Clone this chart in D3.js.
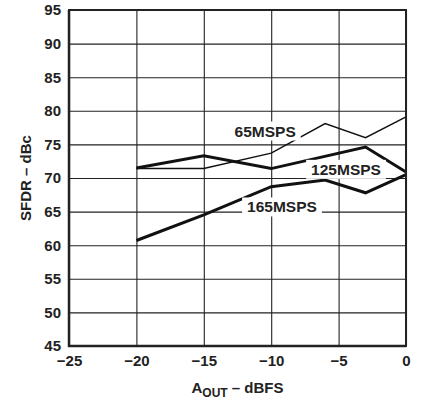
<!DOCTYPE html>
<html>
<head>
<meta charset="utf-8">
<script src="https://cdn.jsdelivr.net/npm/d3@7"></script>
<style>
  body { margin: 0; background: #fff; }
  text { font-family: "Liberation Sans", Arial, sans-serif; font-weight: bold; fill: #222; }
</style>
</head>
<body>
<div id="chart"></div>
<script>
// x ticks / y ticks
const xTicks = [-25, -20, -15, -10, -5, 0];
const yTicks = [45, 50, 55, 60, 65, 70, 75, 80, 85, 90, 95];

// series
const x65 = [-20, -15, -10, -6, -3, 0];
const y65 = [71.4, 71.4, 73.7, 78.1, 76.0, 79.1];
const x125 = [-20, -15, -10, -3, 0];
const y125 = [71.5, 73.3, 71.4, 74.6, 70.9];
const x165 = [-20, -15, -10, -6, -3, 0];
const y165 = [60.7, 64.5, 68.7, 69.7, 67.8, 70.5];

const seriesNames = ["65MSPS", "125MSPS", "165MSPS"];
const labelX = [-10.45, -4.45, -9.2];
const labelY = [77.0, 71.3, 65.7];

const W = 428, H = 400;
const margin = {top: 10, right: 22, bottom: 54, left: 69};
const width = W - margin.left - margin.right;
const height = H - margin.top - margin.bottom;

const svg = d3.select("#chart").append("svg")
    .attr("width", W)
    .attr("height", H);
const g = svg.append("g")
    .attr("transform", "translate(" + margin.left + "," + margin.top + ")");

const x = d3.scaleLinear().domain([-25, 0]).range([0, width]);
const y = d3.scaleLinear().domain([45, 95]).range([height, 0]);

// grid + tick labels
const yAxis = g.append("g")
    .call(d3.axisLeft(y).tickValues(yTicks).tickSize(-width).tickPadding(8));
const xAxis = g.append("g")
    .attr("transform", "translate(0," + height + ")")
    .call(d3.axisBottom(x).tickValues(xTicks).tickSize(-height).tickPadding(9));

[xAxis, yAxis].forEach(ax => {
    ax.select(".domain").remove();
    ax.selectAll(".tick line").attr("stroke", "#222").attr("stroke-width", 1.1);
    ax.selectAll(".tick text")
        .style("font-size", "15px")
        .attr("fill", "#222");
});

// series lines
const line = d3.line().x(d => x(d[0])).y(d => y(d[1]));
const series = [
    {xs: x65, ys: y65, w: 1.5},
    {xs: x125, ys: y125, w: 3},
    {xs: x165, ys: y165, w: 3}
];
g.selectAll(".series")
    .data(series)
    .join("path")
    .attr("class", "series")
    .attr("fill", "none")
    .attr("stroke", "#111")
    .attr("stroke-linejoin", "miter")
    .attr("stroke-width", d => d.w)
    .attr("d", d => line(d.xs.map((v, i) => [v, d.ys[i]])));

// labels with white background
const labels = g.selectAll(".lbl")
    .data(seriesNames)
    .join("g")
    .attr("class", "lbl")
    .attr("transform", (d, i) => "translate(" + x(labelX[i]) + "," + y(labelY[i]) + ")");
labels.append("rect")
    .attr("fill", "#fff");
labels.append("text")
    .attr("text-anchor", "middle")
    .attr("dy", "0.36em")
    .style("font-size", "15.5px")
    .text(d => d);
labels.each(function() {
    const bb = d3.select(this).select("text").node().getBBox();
    d3.select(this).select("rect")
        .attr("x", bb.x - 5).attr("y", bb.y - 1)
        .attr("width", bb.width + 10).attr("height", bb.height + 2);
});

// frame
g.append("rect")
    .attr("width", width).attr("height", height)
    .attr("fill", "none").attr("stroke", "#222").attr("stroke-width", 2);
g.append("path")
    .attr("d", "M0,0V" + height + "H" + width)
    .attr("fill", "none").attr("stroke", "#222").attr("stroke-width", 2.5);

// axis titles
svg.append("text")
    .attr("transform", "translate(31," + (margin.top + height / 2) + ") rotate(-90)")
    .attr("text-anchor", "middle")
    .style("font-size", "15px")
    .text("SFDR – dBc");

const xt = svg.append("text")
    .attr("x", margin.left + width / 2)
    .attr("y", 393)
    .attr("text-anchor", "middle")
    .style("font-size", "15px");
xt.append("tspan").text("A");
xt.append("tspan").attr("dy", 4).style("font-size", "12px").text("OUT");
xt.append("tspan").attr("dy", -4).text(" – dBFS");
</script>
</body>
</html>
